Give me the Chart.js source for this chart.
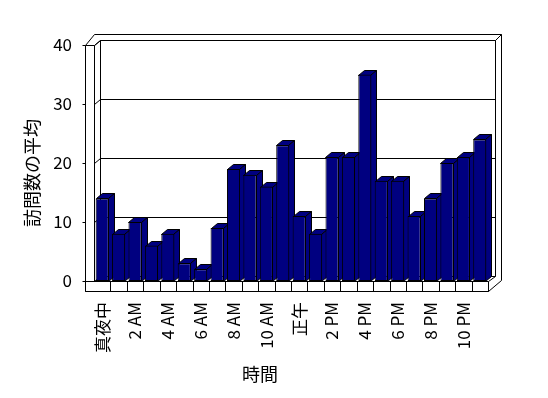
<!DOCTYPE html>
<html>
<head>
<meta charset="utf-8">
<script src="https://cdn.jsdelivr.net/npm/chart.js@4.4.1/dist/chart.umd.min.js"></script>
<style>
  html, body { margin: 0; padding: 0; background: #ffffff; }
  canvas { display: block; }
</style>
</head>
<body>
<canvas id="chart" width="548" height="398"></canvas>
<script>
const hours = [
  "真夜中", "1 AM", "2 AM", "3 AM", "4 AM", "5 AM", "6 AM", "7 AM",
  "8 AM", "9 AM", "10 AM", "11 AM", "正午", "1 PM", "2 PM", "3 PM",
  "4 PM", "5 PM", "6 PM", "7 PM", "8 PM", "9 PM", "10 PM", "11 PM",
];
const visits = [14, 8, 10, 6, 8, 3, 2, 9, 19, 18, 16, 23, 11, 8, 21, 21, 35, 17, 17, 11, 14, 20, 21, 24];
const yTicks = [0, 10, 20, 30, 40];
const xTitle = "時間";
const yTitle = "訪問数の平均";

const FONT = '"Noto Sans CJK JP", "Noto Sans", sans-serif';
const NAVY = "#000080";
// oblique depth of the 3D box
const DX = 6;
const DY = 5;

function px(v) {
  return Math.round(v) + 0.5;
}

function line(ctx, pts) {
  ctx.beginPath();
  ctx.moveTo(px(pts[0][0]), px(pts[0][1]));
  for (let i = 1; i < pts.length; i++) ctx.lineTo(px(pts[i][0]), px(pts[i][1]));
  ctx.stroke();
}

function poly(ctx, pts, fill) {
  ctx.beginPath();
  ctx.moveTo(px(pts[0][0]), px(pts[0][1]));
  for (let i = 1; i < pts.length; i++) ctx.lineTo(px(pts[i][0]), px(pts[i][1]));
  ctx.closePath();
  if (fill) {
    ctx.fillStyle = fill;
    ctx.fill();
  }
  ctx.stroke();
}

const boxPlugin = {
  id: "box3d",
  beforeDatasetsDraw(chart) {
    const { ctx, chartArea } = chart;
    const { left: L, right: R, top: T, bottom: B } = chartArea;
    const x = chart.scales.x;
    const y = chart.scales.y;
    ctx.save();
    ctx.strokeStyle = "#000000";
    ctx.lineWidth = 1;

    // outer silhouette of walls and floor
    poly(ctx, [[L - 9, T], [L, T - 11], [R + 13, T - 11], [R + 13, B - 1], [R, B + 10], [L - 9, B + 10]], "#ffffff");

    // left wall
    line(ctx, [[L - 9, T], [L, T], [L + DX, T - DY]]);
    line(ctx, [[L, T], [L, B]]);
    line(ctx, [[L, B], [L + DX, B - DY]]);

    // back wall inner face and top-right corner
    poly(ctx, [[L + DX, T - DY], [R + DX + 1, T - DY], [R + DX + 1, B - DY], [L + DX, B - DY]]);
    line(ctx, [[R + DX + 1, T - DY], [R + 13, T - 11]]);

    // gridlines on left and back wall
    yTicks.forEach((v) => {
      if (v === 0) return;
      const gy = y.getPixelForValue(v);
      line(ctx, [[L, gy], [L + DX, gy - DY], [R + DX + 1, gy - DY]]);
    });

    // y tick marks on front edge of left wall
    yTicks.forEach((v) => {
      const gy = y.getPixelForValue(v);
      line(ctx, [[L - 12, gy], [L - 9, gy]]);
    });

    // floor
    poly(ctx, [[L - 9, B], [R, B], [R, B + 10], [L - 9, B + 10]]);
    line(ctx, [[R, B], [R + DX + 1, B - DY]]);
    for (let i = 1; i < hours.length; i++) {
      const bx = (x.getPixelForValue(i - 1) + x.getPixelForValue(i)) / 2;
      line(ctx, [[bx, B], [bx, B + 10]]);
    }

    // bar tops and sides, left to right
    const meta = chart.getDatasetMeta(0);
    ctx.fillStyle = NAVY;
    meta.data.forEach((bar) => {
      const x0 = Math.round(bar.x - bar.width / 2);
      const x1 = Math.round(bar.x + bar.width / 2) - 1;
      const top = Math.round(bar.y);
      const base = Math.round(bar.base);
      poly(ctx, [[x0, top], [x1, top], [x1 + DX, top - DY], [x0 + DX, top - DY]], NAVY);
      poly(ctx, [[x1, top], [x1 + DX, top - DY], [x1 + DX, base - DY], [x1, base]], NAVY);
    });
    ctx.restore();
  },
  afterDraw(chart) {
    const { ctx } = chart;
    ctx.save();
    ctx.fillStyle = "#000000";
    ctx.font = "18px " + FONT;
    ctx.textAlign = "center";
    ctx.textBaseline = "middle";
    ctx.fillText(xTitle, 260, 374);
    ctx.translate(32, 173);
    ctx.rotate(-Math.PI / 2);
    ctx.fillText(yTitle, 0, 0);
    ctx.restore();
  },
};

new Chart(document.getElementById("chart"), {
  type: "bar",
  data: {
    labels: hours,
    datasets: [
      {
        data: visits,
        backgroundColor: NAVY,
        borderColor: "#000000",
        borderWidth: 1,
        borderSkipped: false,
        barPercentage: 0.8,
        categoryPercentage: 1.0,
      },
    ],
  },
  options: {
    responsive: false,
    animation: false,
    devicePixelRatio: 1,
    layout: {
      padding: { top: 45, right: 60, bottom: 0, left: 0 },
    },
    plugins: {
      legend: { display: false },
      tooltip: { enabled: false },
    },
    scales: {
      x: {
        grid: { display: false, drawTicks: false },
        border: { display: false },
        afterFit(scale) {
          scale.height = 117;
        },
        ticks: {
          autoSkip: false,
          minRotation: 90,
          maxRotation: 90,
          padding: 21,
          color: "#000000",
          font: { family: FONT, size: 17 },
          callback(value, index) {
            return index % 2 === 0 ? hours[index] : "";
          },
        },
      },
      y: {
        min: 0,
        max: 40,
        grid: { display: false, drawTicks: false },
        border: { display: false },
        afterFit(scale) {
          scale.width = 94;
        },
        afterBuildTicks(scale) {
          scale.ticks = yTicks.map((v) => ({ value: v }));
        },
        ticks: {
          padding: 22,
          color: "#000000",
          font: { family: FONT, size: 17 },
        },
      },
    },
  },
  plugins: [boxPlugin],
});
</script>
</body>
</html>
